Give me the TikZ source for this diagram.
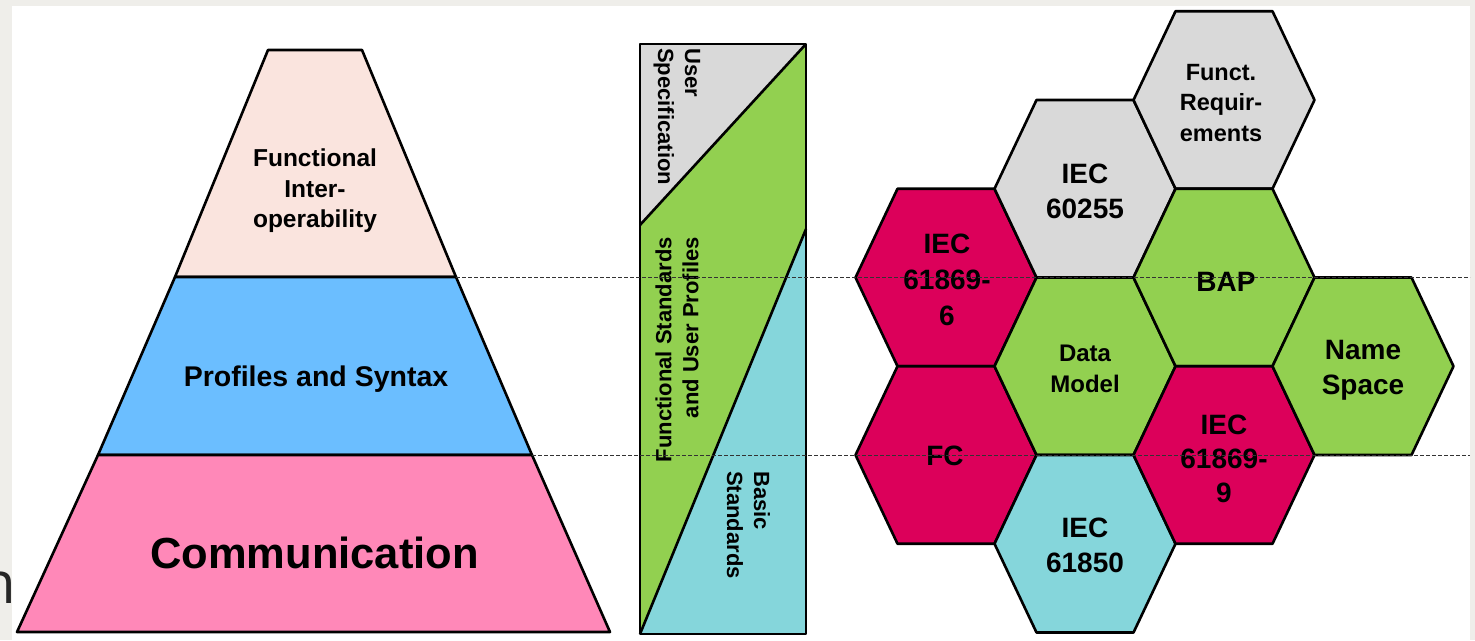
\documentclass[tikz,border=0pt]{standalone}
\usepackage{fontspec}
\setmainfont{Liberation Sans}
\newfontfamily\fragfont{Open Sans}
\definecolor{bggray}{RGB}{239,238,234}
\definecolor{pyrtop}{RGB}{250,228,222}
\definecolor{pyrmid}{RGB}{107,190,255}
\definecolor{pyrbot}{RGB}{255,136,184}
\definecolor{hexgray}{RGB}{217,217,217}
\definecolor{hexgreen}{RGB}{146,208,80}
\definecolor{hexred}{RGB}{220,0,90}
\definecolor{hexcyan}{RGB}{133,214,219}
\newcommand\fsz[2]{\fontsize{#1}{#2}\selectfont}
\newcommand\hexcell[3]{%
  \draw[outline, fill=#3] (#1-90.5,#2) -- (#1-48.5,#2-88.75) -- (#1+48.5,#2-88.75)
    -- (#1+90.5,#2) -- (#1+48.5,#2+88.75) -- (#1-48.5,#2+88.75) -- cycle;}
\begin{document}
\begin{tikzpicture}[x=1pt,y=-1pt,
  outline/.style={draw=black, line width=2.6pt, line join=round},
  guide/.style={draw=black!80, line width=1pt, dash pattern=on 4pt off 2pt},
  lbl/.style={inner sep=0pt, align=center, font=\bfseries, text=black},
  coltext/.style={inner sep=0pt, font=\bfseries\fsz{22}{27}, text=black}]
\useasboundingbox[fill=bggray] (0,0) rectangle (1475,640);
\node[anchor=base east, inner sep=0pt, font=\fragfont\fsz{58}{58}, text=black!85] (frag) at (16.5,603) {n};
\fill[white] (12,6) rectangle (1470,640);

% pyramid
\draw[outline, fill=pyrtop] (268,50) -- (362,50) -- (456,277) -- (175,277) -- cycle;
\draw[outline, fill=pyrmid] (175,277) -- (456,277) -- (532,455) -- (98,455) -- cycle;
\draw[outline, fill=pyrbot] (98,455) -- (532,455) -- (610,632) -- (17,632) -- cycle;
\coordinate (g1a) at (456,277.5);
\coordinate (g2a) at (532,455);
\coordinate (g1b) at (1470,277.5);
\coordinate (g2b) at (1470,455);
\node[lbl, font=\bfseries\fsz{24.5}{30.5}] (fi) at (315,191) {Functional\\Inter-\\operability};
\node[lbl, font=\bfseries\fsz{28.5}{30}] (ps) at (316,379) {Profiles and Syntax};
\node[lbl, font=\bfseries\fsz{43.5}{45}] (cm) at (314.5,553) {Communication};

% column
\fill[hexgray] (640,44) -- (806,44) -- (640,225) -- cycle;
\fill[hexgreen] (806,44) -- (806,229) -- (640,634) -- (640,225) -- cycle;
\fill[hexcyan] (806,229) -- (806,634) -- (640,634) -- cycle;
\draw[outline] (806,44) -- (640,225);
\draw[outline] (806,229) -- (640,634);
\draw[outline] (640,44) rectangle (806,634);
\node[coltext, rotate=-90, anchor=west, align=left] (us) at (677,48) {User\\Specification};
\node[coltext, rotate=90, anchor=east, align=right] (fs) at (677,237) {Functional Standards\\and User Profiles};
\node[coltext, rotate=-90, anchor=west, align=left] (bs) at (748.5,471) {Basic\\Standards};

% hexagons
\hexcell{946}{277.5}{hexred}
\hexcell{946}{455}{hexred}
\hexcell{1085}{188.75}{hexgray}
\hexcell{1085}{366.25}{hexgreen}
\hexcell{1085}{543.75}{hexcyan}
\hexcell{1224}{100}{hexgray}
\hexcell{1224}{277.5}{hexgreen}
\hexcell{1224}{455}{hexred}
\hexcell{1363}{366.25}{hexgreen}

\node[lbl, font=\bfseries\fsz{23.5}{30.5}] (fr) at (1221,103) {Funct.\\Requir-\\ements};
\node[lbl, font=\bfseries\fsz{28}{35}] (i60255) at (1085,191) {IEC\\60255};
\node[lbl, font=\bfseries\fsz{28}{36}] (i61869a) at (947,280) {IEC\\61869-\\6};
\node[lbl, font=\bfseries\fsz{28}{35}] (bap) at (1226,282) {BAP};
\node[lbl, font=\bfseries\fsz{24}{31}] (dm) at (1085,369) {Data\\Model};
\node[lbl, font=\bfseries\fsz{28}{35}] (nsp) at (1363,370) {Name\\Space};
\node[lbl, font=\bfseries\fsz{28}{35}] (fc) at (945,456) {FC};
\node[lbl, font=\bfseries\fsz{28}{34}] (i61869b) at (1224,459) {IEC\\61869-\\9};
\node[lbl, font=\bfseries\fsz{28}{35}] (i61850) at (1085,545) {IEC\\61850};

% guide lines
\draw[guide] (g1a) -- (g1b);
\draw[guide] (g2a) -- (g2b);
\end{tikzpicture}
\end{document}
